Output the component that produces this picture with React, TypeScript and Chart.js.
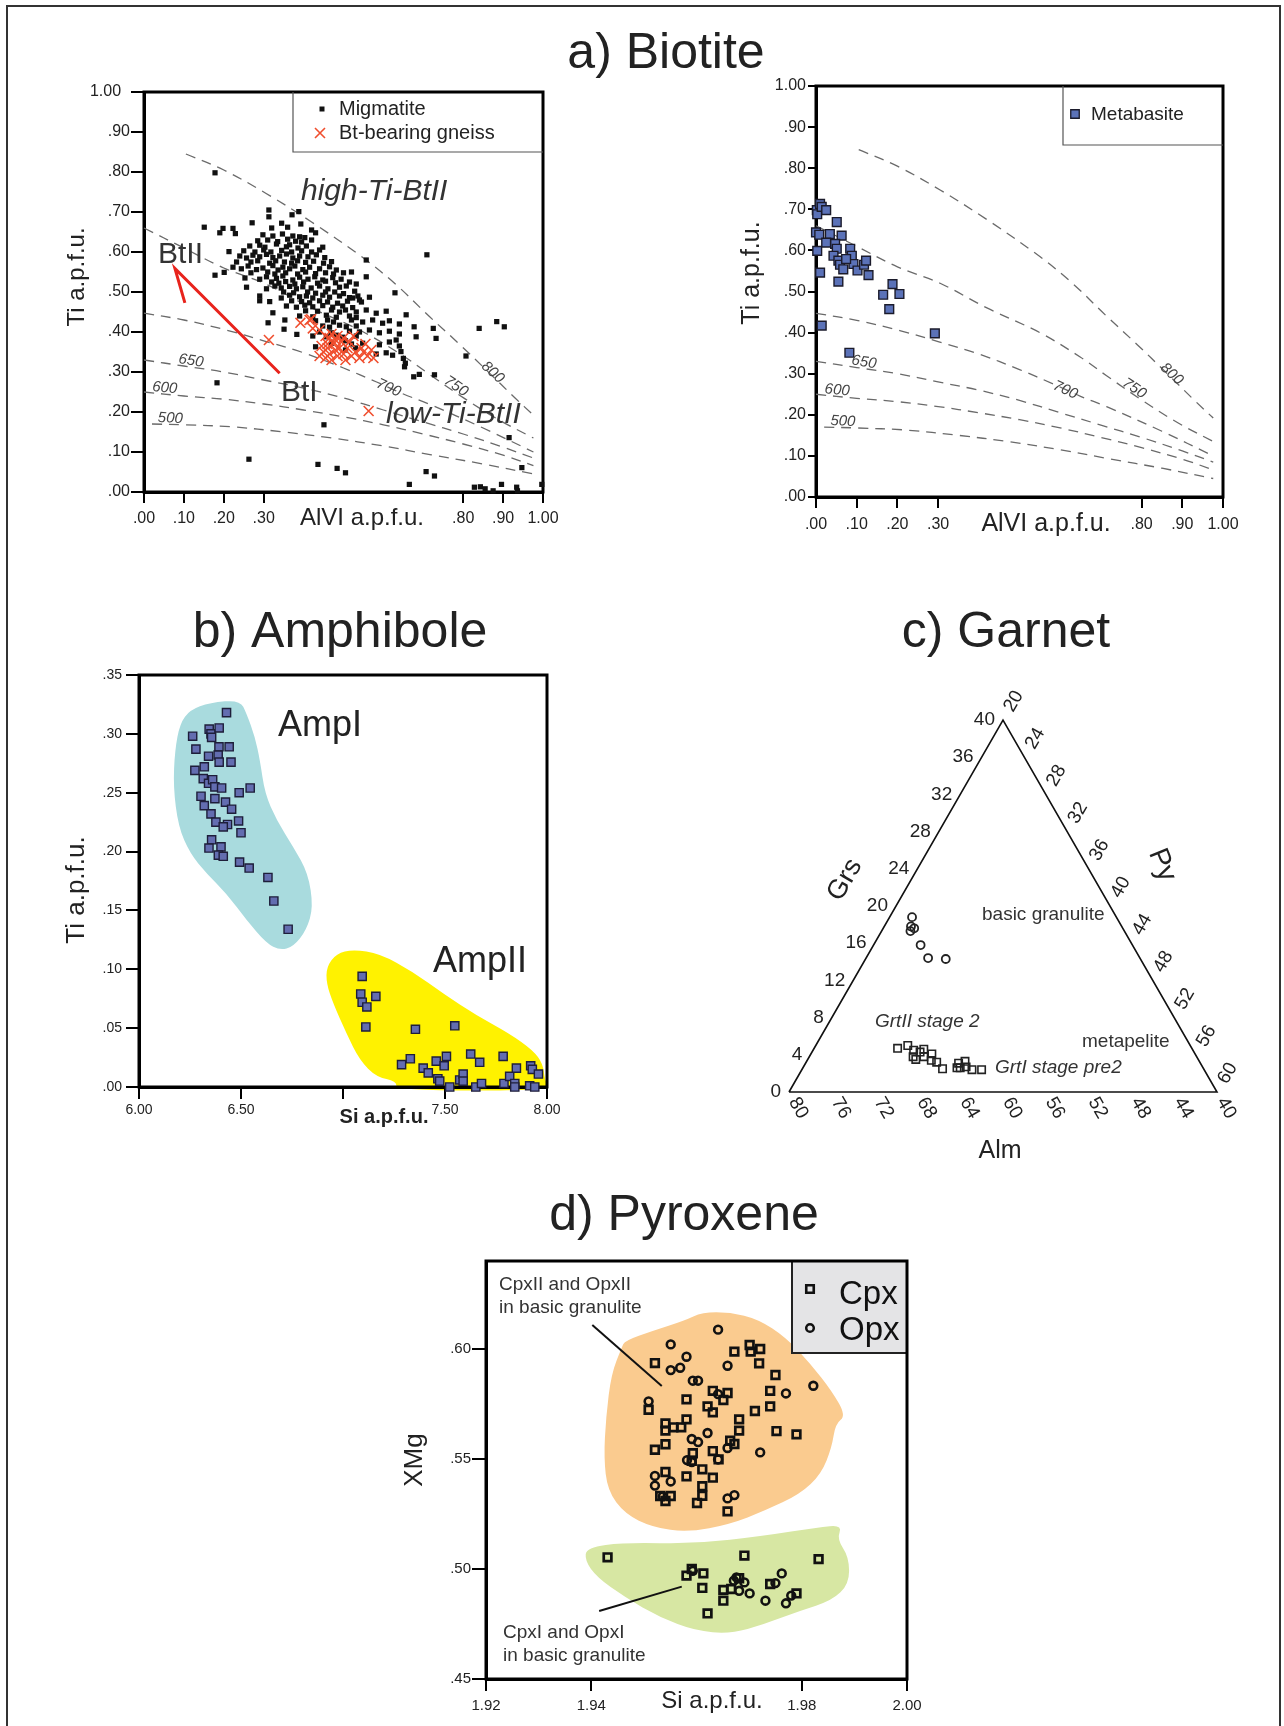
import React, { useEffect, useRef } from 'react';
import { Chart, registerables } from 'chart.js';

Chart.register(...registerables);

const PAGE_W = 1284;
const PAGE_H = 1726;
const FF = '"Liberation Sans", Arial, Helvetica, sans-serif';

type P = [number, number];

/* ================= a) Biotite ================= */
const bioXTicks = [0, 0.1, 0.2, 0.3, 0.8, 0.9, 1.0];
const bioYTicks = [0, 0.1, 0.2, 0.3, 0.4, 0.5, 0.6, 0.7, 0.8, 0.9, 1.0];

const migmatite: P[] = [
  [.178,.798],[.151,.662],[.198,.659],[.19,.648],[.223,.659],[.229,.646],[.271,.673],[.213,.601],[.178,.542],[.201,.549],
  [.183,.273],[.263,.082],[.451,.168],[.436,.069],[.484,.059],[.505,.048],[.313,.705],[.313,.688],[.371,.693],[.388,.701],
  [.29,.478],[.315,.476],[.323,.448],[.311,.423],[.353,.43],[.351,.407],[.383,.394],[.43,.363],
  [.709,.593],[.557,.58],[.557,.538],[.629,.498],[.657,.443],[.677,.413],[.725,.409],[.682,.388],[.732,.384],[.84,.409],
  [.884,.426],[.903,.413],[.807,.34],[.655,.322],[.676,.288],[.69,.294],[.728,.293],[.915,.136],[.665,.019],[.707,.051],
  [.728,.04],[.828,.012],[.843,.013],[.855,.008],[.875,.003],[.896,.019],[.934,.012],[.936,.003],[.947,.061],[.997,.019],
  [.644,.351],[.65,.334],[.653,.313],[.632,.38],
  [.298,.643],[.323,.64],[.347,.645],[.373,.64],[.39,.638],[.403,.636],
  [.32,.66],[.345,.672],[.36,.662],[.393,.67],[.42,.655],[.43,.648],
  [.285,.628],[.31,.63],[.335,.626],[.36,.632],[.38,.627],[.395,.625],[.42,.63],
  [.265,.615],[.29,.617],[.303,.612],[.332,.62],[.357,.613],[.365,.618],[.386,.61],[.407,.615],[.448,.612],
  [.25,.603],[.278,.6],[.3,.605],[.318,.6],[.345,.604],[.37,.6],[.395,.603],[.42,.6],[.44,.605],
  [.24,.59],[.257,.585],[.273,.592],[.29,.588],[.307,.594],[.323,.586],[.34,.59],[.357,.595],[.373,.585],[.39,.59],[.411,.588],[.432,.593],[.453,.586],
  [.232,.575],[.268,.575],[.285,.578],[.315,.572],[.33,.578],[.352,.575],[.37,.572],[.385,.578],[.405,.574],[.425,.577],[.45,.572],[.47,.576],
  [.223,.562],[.244,.558],[.261,.565],[.282,.556],[.298,.56],[.323,.566],[.336,.555],[.348,.562],[.365,.558],[.378,.565],[.398,.556],[.415,.562],[.44,.558],[.465,.563],[.482,.555],
  [.268,.548],[.31,.55],[.328,.545],[.355,.548],[.385,.545],[.405,.55],[.43,.546],[.455,.548],[.475,.545],[.5,.548],[.52,.55],
  [.253,.535],[.29,.532],[.307,.538],[.332,.534],[.348,.54],[.373,.53],[.39,.537],[.411,.532],[.428,.538],[.448,.53],[.473,.536],[.494,.532],
  [.32,.525],[.338,.522],[.355,.526],[.378,.52],[.4,.525],[.435,.522],[.455,.527],[.48,.523],[.515,.525],[.532,.52],
  [.257,.512],[.307,.508],[.328,.515],[.344,.51],[.365,.514],[.382,.508],[.398,.513],[.419,.51],[.44,.515],[.461,.508],[.49,.512],[.507,.515],
  [.35,.5],[.375,.498],[.41,.5],[.43,.497],[.455,.5],[.478,.5],[.5,.496],[.528,.502],
  [.29,.49],[.344,.485],[.365,.492],[.39,.488],[.407,.49],[.423,.485],[.448,.492],[.465,.487],[.49,.49],[.515,.486],[.536,.49],[.523,.485],[.54,.48],[.565,.487],
  [.37,.478],[.395,.476],[.415,.473],[.44,.478],[.46,.475],[.485,.472],[.51,.477],[.545,.475],
  [.357,.465],[.382,.462],[.403,.467],[.423,.463],[.448,.466],[.473,.462],[.498,.465],[.523,.461],
  [.405,.453],[.435,.452],[.47,.455],[.49,.45],[.505,.455],[.532,.45],[.557,.455],[.582,.447],[.607,.452],
  [.39,.44],[.423,.438],[.457,.442],[.482,.437],[.515,.44],[.532,.436],
  [.43,.428],[.46,.43],[.475,.425],[.52,.43],[.548,.425],[.573,.43],[.598,.422],[.615,.428],[.64,.42],
  [.448,.415],[.465,.412],[.49,.417],[.507,.413],[.532,.415],
  [.44,.4],[.47,.398],[.515,.402],[.54,.4],[.565,.405],[.59,.398],[.615,.402],[.64,.395],
  [.423,.39],[.457,.388],[.482,.392],[.498,.387],[.532,.39],
  [.47,.372],[.505,.378],[.52,.37],[.548,.372],[.59,.368],[.615,.375],[.64,.365],
  [.505,.355],[.53,.36],[.582,.345],[.607,.348],[.623,.342]
];

const btGneiss: P[] = [
  [.313,.38],[.392,.423],[.419,.432],[.423,.409],[.415,.43],[.44,.405],[.455,.39],[.46,.37],[.465,.385],[.47,.395],
  [.475,.37],[.48,.38],[.485,.39],[.49,.36],[.495,.375],[.45,.35],[.455,.335],[.465,.345],[.47,.33],[.48,.355],
  [.5,.345],[.505,.33],[.51,.36],[.52,.34],[.53,.35],[.54,.335],[.545,.36],[.555,.37],[.56,.34],[.57,.355],
  [.575,.335],[.445,.365],[.44,.34],[.46,.36],[.485,.34],[.5,.385],[.515,.375],[.525,.39],[.55,.35],[.563,.2025]
];

const metabasite: P[] = [
  [.002,.698],[.003,.688],[.01,.713],[.014,.706],[.025,.698],[0,.644],[.008,.638],[.003,.599],[.01,.546],[.014,.417],
  [.034,.64],[.025,.619],[.051,.669],[.063,.636],[.047,.616],[.051,.604],[.043,.587],[.055,.575],[.059,.565],[.055,.524],
  [.067,.554],[.084,.604],[.088,.587],[.092,.567],[.074,.579],[.102,.551],[.118,.565],[.123,.575],[.129,.54],[.165,.492],
  [.188,.518],[.205,.494],[.18,.457],[.292,.398],[.082,.351]
];

const iso800: P[] = [[.105,.845],[.2,.805],[.305,.747],[.42,.675],[.55,.585],[.63,.52],[.714,.44],[.79,.37],[.862,.301],[.93,.235],[.976,.192]];
const iso750: P[] = [[0,.66],[.1,.61],[.2,.56],[.305,.52],[.42,.46],[.55,.4],[.65,.34],[.714,.295],[.8,.236],[.89,.18],[.976,.135]];
const iso700: P[] = [[0,.447],[.1,.43],[.206,.405],[.3,.378],[.4,.348],[.5,.31],[.583,.275],[.65,.245],[.714,.22],[.85,.16],[.976,.1]];
const iso650: P[] = [[0,.33],[.1,.315],[.2,.3],[.3,.28],[.4,.26],[.5,.235],[.6,.205],[.7,.175],[.8,.145],[.9,.112],[.976,.085]];
const iso600: P[] = [[0,.25],[.1,.24],[.2,.232],[.3,.22],[.4,.205],[.5,.188],[.6,.168],[.7,.145],[.8,.12],[.9,.092],[.976,.066]];
const iso500: P[] = [[.02,.17],[.1,.168],[.22,.163],[.35,.15],[.47,.135],[.6,.115],[.72,.093],[.85,.07],[.976,.045]];
const isoNames = ['500', '600', '650', '700', '750', '800'];
const isoLabelAt: P[] = [[.066,.184],[.052,.26],[.118,.328],[.613,.26],[.782,.264],[.874,.299]];
const isoLabelRot = [3, 5, 9, 24, 34, 42];
const btArrow: P[] = [[.1025,.473],[.0775,.559],[.34,.297]];

/* ================= b) Amphibole ================= */
const amphXTicks = [6, 6.5, 7, 7.5, 8];
const amphYTicks = [0, 0.05, 0.1, 0.15, 0.2, 0.25, 0.3, 0.35];
const ampI: P[] = [
  [6.263,.298],[6.279,.287],[6.344,.304],[6.353,.3],[6.356,.297],[6.393,.305],[6.429,.318],[6.392,.289],[6.442,.289],[6.341,.281],
  [6.388,.282],[6.393,.276],[6.451,.276],[6.274,.269],[6.32,.272],[6.315,.262],[6.341,.258],[6.361,.261],[6.372,.255],[6.405,.254],
  [6.304,.247],[6.372,.245],[6.32,.239],[6.424,.242],[6.491,.25],[6.545,.254],[6.454,.236],[6.353,.232],[6.377,.225],[6.434,.223],
  [6.413,.221],[6.488,.226],[6.5,.216],[6.356,.21],[6.343,.203],[6.402,.204],[6.389,.197],[6.413,.196],[6.493,.191],[6.54,.186],
  [6.632,.178],[6.661,.158],[6.731,.134]
];
const ampII: P[] = [
  [7.094,.094],[7.087,.079],[7.094,.072],[7.117,.068],[7.161,.077],[7.112,.051],[7.355,.049],[7.548,.052],[7.287,.019],[7.33,.024],
  [7.393,.016],[7.418,.012],[7.457,.022],[7.465,.007],[7.474,.005],[7.496,.018],[7.507,.026],[7.523,0],[7.572,.006],[7.589,.011],
  [7.589,.005],[7.626,.028],[7.67,.021],[7.651,0],[7.679,.003],[7.785,.026],[7.789,.003],[7.817,.009],[7.842,.003],[7.85,.016],
  [7.842,0],[7.92,.018],[7.928,.015],[7.915,.001],[7.94,0],[7.958,.011]
];
const ampIZone: P[] = [
  [6.25,.3203],[6.348,.3265],[6.495,.3287],[6.527,.3174],[6.568,.2976],[6.593,.2777],[6.617,.2494],[6.674,.2267],[6.756,.2041],
  [6.829,.1814],[6.854,.153],[6.821,.1332],[6.756,.119],[6.691,.1162],[6.625,.1219],[6.527,.1417],[6.429,.1644],[6.331,.1814],
  [6.25,.1984],[6.193,.2211],[6.168,.2551],[6.176,.2862],[6.201,.3089]
];
const ampIIZone: P[] = [
  [6.919,.102],[6.968,.1134],[7.05,.1168],[7.18,.1134],[7.344,.0978],[7.491,.0794],[7.654,.0609],[7.817,.0453],[7.931,.0312],
  [7.98,.0198],[7.989,.0057],[8.021,-.003],[7.262,-.003],[7.262,.0051],[7.164,.0085],[7.082,.0227],[7.017,.0453],[6.952,.0709],[6.919,.0879]
];

/* ================= c) Garnet (ternary) ================= */
const grsTicks = [0, 4, 8, 12, 16, 20, 24, 28, 32, 36, 40];
const almTicks = [80, 76, 72, 68, 64, 60, 56, 52, 48, 44, 40];
const pyTicks = [20, 24, 28, 32, 36, 40, 44, 48, 52, 56, 60];
const triGrs = [0, 0, 40, 0];
const triPy = [20, 60, 20, 20];
const basicGrtGrs = [18.8, 17.8, 17.6, 17.3, 15.8, 14.4, 14.3];
const basicGrtPy = [22.1, 22.5, 22.9, 22.7, 24.4, 25.8, 27.5];
const peliteGrtGrs = [4.7, 5.0, 4.5, 3.8, 4.3, 4.6, 3.8, 4.1, 3.4, 3.2, 2.5, 3.1, 2.6, 3.3, 2.7, 2.4, 2.4, 3.5, 2.6];
const peliteGrtPy = [27.8, 28.6, 29.4, 29.7, 30.1, 30.3, 30.7, 31.3, 31.6, 32.2, 33.1, 34.3, 34.7, 34.8, 35.2, 35.9, 36.8, 30.1, 34.4];

/* ================= d) Pyroxene ================= */
const pyrXTicks = [1.92, 1.94, 1.98, 2.0];
const pyrYTicks = [0.45, 0.5, 0.55, 0.6];
const cpxII: P[] = [
  [1.9521,.5936],[1.9672,.5988],[1.9701,.6018],[1.9721,.6],[1.9719,.5935],[1.975,.5882],[1.974,.581],[1.974,.5739],[1.9711,.5718],
  [1.9752,.5627],[1.979,.5612],[1.9681,.568],[1.9681,.5629],[1.9664,.5583],[1.9672,.5568],[1.9659,.58],[1.9651,.5768],[1.9631,.581],
  [1.9631,.5712],[1.9621,.5739],[1.9581,.5771],[1.9581,.568],[1.9541,.5662],[1.9541,.5629],[1.9556,.5644],[1.9571,.5644],[1.9521,.5542],
  [1.9541,.5567],[1.9593,.5526],[1.9591,.5492],[1.9631,.5536],[1.9642,.5498],[1.9611,.5453],[1.9581,.5421],[1.9631,.5415],[1.9611,.5376],
  [1.9611,.5333],[1.9601,.53],[1.9541,.5441],[1.9531,.5332],[1.9551,.5332],[1.9541,.5309],[1.9509,.5724],[1.9659,.5262],[1.9703,.5988]
];
const opxII: P[] = [
  [1.9551,.6021],[1.9641,.6088],[1.9581,.5965],[1.9551,.5904],[1.9569,.5915],[1.9593,.5856],[1.9603,.5856],[1.9659,.5924],[1.9509,.5762],
  [1.977,.5798],[1.9822,.5833],[1.9721,.553],[1.9621,.5618],[1.9591,.5591],[1.9603,.5577],[1.9641,.5498],[1.9582,.5495],[1.9591,.5486],
  [1.9659,.555],[1.9521,.5423],[1.9521,.5379],[1.9551,.5398],[1.9536,.533],[1.9659,.5321],[1.9672,.5336],[1.9641,.5795]
];
const cpxI: P[] = [
  [1.9431,.5053],[1.9581,.497],[1.9591,.5],[1.9613,.498],[1.9611,.4914],[1.9621,.4798],[1.9651,.4905],[1.9651,.4856],[1.9691,.5061],
  [1.9681,.4958],[1.974,.4932],[1.979,.4889],[1.9832,.5045],[1.9666,.4909]
];
const opxI: P[] = [
  [1.9593,.4992],[1.9671,.4947],[1.9691,.4939],[1.9681,.4901],[1.9701,.4889],[1.9731,.4856],[1.975,.4936],[1.9762,.498],[1.977,.4844],
  [1.978,.4879],[1.9676,.4962]
];
const zoneII: P[] = [
  [1.9464,.6038],[1.9517,.6083],[1.9577,.6129],[1.9611,.6167],[1.9664,.6167],[1.9717,.6136],[1.977,.6053],[1.9817,.5932],[1.9857,.581],
  [1.9884,.5697],[1.9864,.5659],[1.9857,.5553],[1.9837,.5432],[1.9797,.5341],[1.973,.5265],[1.9664,.5204],[1.9584,.5167],[1.9517,.5189],
  [1.9464,.525],[1.9431,.5356],[1.9424,.5507],[1.9428,.5689],[1.9438,.5886],[1.9458,.6007]
];
const zoneI: P[] = [
  [1.9391,.5098],[1.9464,.5121],[1.9597,.5114],[1.973,.5151],[1.983,.5189],[1.9877,.52],[1.9867,.5136],[1.989,.5053],[1.989,.4932],
  [1.9857,.4856],[1.9797,.4811],[1.973,.475],[1.9664,.4705],[1.9597,.472],[1.9531,.478],[1.9464,.4871],[1.9411,.4962],[1.9388,.5038]
];
const leaderII: P[] = [[1.9402,.6109],[1.9534,.5832]];
const leaderI: P[] = [[1.9415,.4809],[1.9572,.492]];

/* ================= helpers ================= */
const xy = (a: P[]) => a.map(([x, y]) => ({ x, y }));
const R3 = Math.sqrt(3) / 2;
const tern = (grs: number, py: number) => ({ x: py - 20 + grs / 2, y: grs * R3 });
const strip0 = (v: number) => v.toFixed(2).replace(/^0/, '');

interface TOpt { size: number; style?: string; weight?: string; color?: string; align?: CanvasTextAlign; base?: CanvasTextBaseline; rot?: number }
function drawText(ctx: CanvasRenderingContext2D, t: string, x: number, y: number, o: TOpt) {
  ctx.save();
  ctx.translate(x, y);
  if (o.rot) ctx.rotate((o.rot * Math.PI) / 180);
  ctx.font = `${o.style || 'normal'} ${o.weight || 'normal'} ${o.size}px ${FF}`;
  ctx.fillStyle = o.color || '#222';
  ctx.textAlign = o.align || 'left';
  ctx.textBaseline = o.base || 'alphabetic';
  ctx.fillText(t, 0, 0);
  ctx.restore();
}

function drawFrame(chart: any) {
  const a = chart.chartArea;
  const ctx = chart.ctx;
  ctx.save();
  ctx.strokeStyle = '#000';
  ctx.lineWidth = 3;
  ctx.strokeRect(a.left, a.top, a.right - a.left, a.bottom - a.top);
  ctx.restore();
}

function drawBlob(chart: any, pts: P[], color: string) {
  const { ctx, scales } = chart;
  const px = pts.map(([a, b]) => [scales.x.getPixelForValue(a), scales.y.getPixelForValue(b)]);
  const n = px.length;
  const mid = (i: number, j: number) => [(px[i][0] + px[j][0]) / 2, (px[i][1] + px[j][1]) / 2];
  ctx.save();
  ctx.beginPath();
  const m0 = mid(n - 1, 0);
  ctx.moveTo(m0[0], m0[1]);
  for (let i = 0; i < n; i++) {
    const m = mid(i, (i + 1) % n);
    ctx.quadraticCurveTo(px[i][0], px[i][1], m[0], m[1]);
  }
  ctx.closePath();
  ctx.fillStyle = color;
  ctx.fill();
  ctx.restore();
}

function axis(min: number, max: number, ticks: number[], fmt: (v: number) => string, o: { horizontal: boolean; fit: number; size: number; tick: number; pad: number }) {
  return {
    type: 'linear',
    min,
    max,
    afterBuildTicks: (s: any) => { s.ticks = ticks.map((v) => ({ value: v })); },
    afterFit: (s: any) => { if (o.horizontal) s.height = o.fit; else s.width = o.fit; },
    grid: { display: true, drawOnChartArea: false, drawTicks: true, tickLength: o.tick, tickWidth: 2, tickColor: '#000', color: '#000', lineWidth: 2 },
    border: { display: true, width: 3, color: '#000' },
    ticks: { autoSkip: false, maxRotation: 0, minRotation: 0, padding: o.pad, color: '#222', font: { family: FF, size: o.size }, callback: (v: any) => fmt(Number(v)) },
  };
}

function layoutFor(L: number, T: number, R: number, B: number, yw: number, xh: number) {
  return { padding: { left: L - yw, top: T, right: PAGE_W - R, bottom: PAGE_H - B - xh } };
}

function baseOptions(layout: any, scales: any) {
  return {
    responsive: false,
    animation: false,
    events: [],
    layout,
    scales,
    plugins: { legend: { display: false }, tooltip: { enabled: false }, title: { display: false } },
  };
}

const isoDatasets = () =>
  [iso800, iso750, iso700, iso650, iso600, iso500].map((d) => ({
    data: xy(d), showLine: true, pointRadius: 0, borderColor: '#6a6a6a', borderWidth: 1.3, borderDash: [10, 7], tension: 0.35, clip: false,
  }));

const isoLabelDraw = (chart: any) => {
  const { ctx, scales } = chart;
  isoNames.forEach((n, i) =>
    drawText(ctx, n, scales.x.getPixelForValue(isoLabelAt[i][0]), scales.y.getPixelForValue(isoLabelAt[i][1]), {
      size: 15, style: 'italic', color: '#444', align: 'center', base: 'middle', rot: isoLabelRot[i],
    })
  );
};

function square(ctx: CanvasRenderingContext2D, cx: number, cy: number, s: number, fill: string | null, stroke: string | null, lw: number) {
  ctx.save();
  ctx.beginPath();
  ctx.rect(cx - s / 2, cy - s / 2, s, s);
  if (fill) { ctx.fillStyle = fill; ctx.fill(); }
  if (stroke) { ctx.strokeStyle = stroke; ctx.lineWidth = lw; ctx.stroke(); }
  ctx.restore();
}

/* ================= charts ================= */
function makeBioLeft(cv: HTMLCanvasElement) {
  const plugin = {
    id: 'bioLeftDeco',
    beforeDatasetsDraw: (c: any) => drawFrame(c),
    afterDatasetsDraw: (c: any) => {
      const ctx = c.ctx as CanvasRenderingContext2D;
      isoLabelDraw(c);
      drawText(ctx, 'a) Biotite', 666, 68, { size: 50, align: 'center' });
      drawText(ctx, 'high-Ti-BtII', 301, 200, { size: 30, style: 'italic', color: '#333' });
      drawText(ctx, 'BtII', 158, 263, { size: 30, color: '#333' });
      drawText(ctx, 'BtI', 281, 401, { size: 30, color: '#333' });
      drawText(ctx, 'low-Ti-BtII', 386, 423, { size: 30, style: 'italic', color: '#333' });
      drawText(ctx, 'Ti a.p.f.u.', 77, 277, { size: 24, align: 'center', base: 'middle', rot: -90 });
      drawText(ctx, 'AlVI a.p.f.u.', 362, 525, { size: 24, align: 'center' });
      ctx.save();
      ctx.strokeStyle = '#555';
      ctx.lineWidth = 1.2;
      ctx.beginPath();
      ctx.moveTo(293, 92); ctx.lineTo(293, 152); ctx.lineTo(543, 152);
      ctx.stroke();
      ctx.restore();
      square(ctx, 322, 109, 5, '#111', null, 0);
      ctx.save();
      ctx.strokeStyle = '#f04e2e';
      ctx.lineWidth = 1.6;
      ctx.beginPath();
      ctx.moveTo(315, 128); ctx.lineTo(325, 138); ctx.moveTo(325, 128); ctx.lineTo(315, 138);
      ctx.stroke();
      ctx.restore();
      drawText(ctx, 'Migmatite', 339, 115, { size: 20 });
      drawText(ctx, 'Bt-bearing gneiss', 339, 139, { size: 20 });
    },
  };
  return new Chart(cv, {
    type: 'scatter',
    data: {
      datasets: [
        { data: xy(btArrow), showLine: true, pointRadius: 0, borderColor: '#e8231c', borderWidth: 3, tension: 0, clip: false },
        { data: xy(btGneiss), pointStyle: 'crossRot', pointRadius: 7, pointBorderColor: '#f04e2e', pointBorderWidth: 1.6, clip: false },
        { data: xy(migmatite), pointStyle: 'rect', pointRadius: 3.7, pointBackgroundColor: '#111', pointBorderWidth: 0, pointBorderColor: '#111', clip: false },
        ...isoDatasets(),
      ],
    } as any,
    options: baseOptions(layoutFor(144, 92, 543, 492, 60, 40), {
      x: axis(0, 1, bioXTicks, (v) => (v >= 0.999 ? '1.00' : strip0(v)), { horizontal: true, fit: 40, size: 16, tick: 11, pad: 6 }),
      y: axis(0, 1, bioYTicks, (v) => (v >= 0.999 ? '1.00\u2007' : strip0(v)), { horizontal: false, fit: 60, size: 16, tick: 13, pad: 1 }),
    }) as any,
    plugins: [plugin],
  });
}

function makeBioRight(cv: HTMLCanvasElement) {
  const plugin = {
    id: 'bioRightDeco',
    beforeDatasetsDraw: (c: any) => drawFrame(c),
    afterDatasetsDraw: (c: any) => {
      const ctx = c.ctx as CanvasRenderingContext2D;
      isoLabelDraw(c);
      drawText(ctx, 'Ti a.p.f.u.', 752, 273, { size: 25, align: 'center', base: 'middle', rot: -90 });
      drawText(ctx, 'AlVI a.p.f.u.', 1046, 531, { size: 25, align: 'center' });
      ctx.save();
      ctx.strokeStyle = '#555';
      ctx.lineWidth = 1.2;
      ctx.beginPath();
      ctx.moveTo(1063, 86); ctx.lineTo(1063, 145); ctx.lineTo(1223, 145);
      ctx.stroke();
      ctx.restore();
      square(ctx, 1075, 114, 8.5, '#5b72b8', '#1b1b2b', 1.3);
      drawText(ctx, 'Metabasite', 1091, 120, { size: 19 });
    },
  };
  return new Chart(cv, {
    type: 'scatter',
    data: {
      datasets: [
        { data: xy(metabasite), pointStyle: 'rect', pointRadius: 6.2, pointBackgroundColor: '#5b72b8', pointBorderColor: '#1b1b2b', pointBorderWidth: 1.4, clip: false },
        ...isoDatasets(),
      ],
    } as any,
    options: baseOptions(layoutFor(816, 86, 1223, 497, 60, 40), {
      x: axis(0, 1, bioXTicks, (v) => (v >= 0.999 ? '1.00' : strip0(v)), { horizontal: true, fit: 40, size: 16, tick: 11, pad: 7 }),
      y: axis(0, 1, bioYTicks, (v) => (v >= 0.999 ? '1.00' : strip0(v)), { horizontal: false, fit: 60, size: 16, tick: 8, pad: 2 }),
    }) as any,
    plugins: [plugin],
  });
}

function makeAmph(cv: HTMLCanvasElement) {
  const plugin = {
    id: 'amphDeco',
    beforeDraw: (c: any) => {
      drawBlob(c, ampIZone, '#a9dbde');
      drawBlob(c, ampIIZone, '#fff200');
    },
    beforeDatasetsDraw: (c: any) => drawFrame(c),
    afterDatasetsDraw: (c: any) => {
      const ctx = c.ctx as CanvasRenderingContext2D;
      drawText(ctx, 'b) Amphibole', 340, 647, { size: 50, align: 'center' });
      drawText(ctx, 'AmpI', 278, 736, { size: 36, color: '#222' });
      drawText(ctx, 'AmpII', 433, 972, { size: 36, color: '#222' });
      drawText(ctx, 'Ti a.p.f.u.', 77, 890, { size: 26, align: 'center', base: 'middle', rot: -90 });
      drawText(ctx, 'Si a.p.f.u.', 384, 1123, { size: 20, weight: 'bold', align: 'center' });
    },
  };
  const pt = { pointStyle: 'rect', pointRadius: 5.8, pointBackgroundColor: '#636db0', pointBorderColor: '#1e1e3a', pointBorderWidth: 1.4, clip: false };
  return new Chart(cv, {
    type: 'scatter',
    data: { datasets: [{ data: xy(ampI), ...pt }, { data: xy(ampII), ...pt }] } as any,
    options: baseOptions(layoutFor(139, 675, 547, 1087, 60, 40), {
      x: axis(6, 8, amphXTicks, (v) => (Math.abs(v - 7) < 1e-9 ? '' : v.toFixed(2)), { horizontal: true, fit: 40, size: 14, tick: 12, pad: 3 }),
      y: axis(0, 0.35, amphYTicks, (v) => strip0(v), { horizontal: false, fit: 60, size: 14, tick: 13, pad: 4 }),
    }) as any,
    plugins: [plugin],
  });
}

function makeGarnet(cv: HTMLCanvasElement) {
  const plugin = {
    id: 'garnetDeco',
    afterDatasetsDraw: (c: any) => {
      const ctx = c.ctx as CanvasRenderingContext2D;
      const sx = c.scales.x, sy = c.scales.y;
      const pix = (g: number, p: number) => { const q = tern(g, p); return [sx.getPixelForValue(q.x), sy.getPixelForValue(q.y)]; };
      grsTicks.forEach((g) => { const [x, y] = pix(g, 20); drawText(ctx, String(g), x - 8, y, { size: 19, align: 'right', base: 'middle' }); });
      almTicks.forEach((a) => {
        const [x, y] = pix(0, 100 - a);
        ctx.save(); ctx.translate(x, y); ctx.rotate(Math.PI / 3);
        drawText(ctx, String(a), 8, 0, { size: 19, align: 'left', base: 'middle' });
        ctx.restore();
      });
      pyTicks.forEach((p) => {
        const [x, y] = pix(60 - p, p);
        ctx.save(); ctx.translate(x, y); ctx.rotate(-Math.PI / 3);
        drawText(ctx, String(p), 11, 0, { size: 19, align: 'left', base: 'middle' });
        ctx.restore();
      });
      drawText(ctx, 'c) Garnet', 1006, 647, { size: 50, align: 'center' });
      drawText(ctx, 'Grs', 845, 880, { size: 27, align: 'center', base: 'middle', rot: -60 });
      drawText(ctx, 'Py', 1162, 865, { size: 28, align: 'center', base: 'middle', rot: 68 });
      drawText(ctx, 'Alm', 1000, 1158, { size: 25, align: 'center' });
      drawText(ctx, 'basic granulite', 982, 920, { size: 19, color: '#333' });
      drawText(ctx, 'metapelite', 1082, 1047, { size: 19, color: '#333' });
      drawText(ctx, 'GrtII stage 2', 875, 1027, { size: 19, style: 'italic', color: '#333' });
      drawText(ctx, 'GrtI stage pre2', 995, 1073, { size: 19, style: 'italic', color: '#333' });
    },
  };
  const tri = triGrs.map((g, i) => tern(g, triPy[i]));
  const basic = basicGrtGrs.map((g, i) => tern(g, basicGrtPy[i]));
  const pelite = peliteGrtGrs.map((g, i) => tern(g, peliteGrtPy[i]));
  return new Chart(cv, {
    type: 'scatter',
    data: {
      datasets: [
        { data: basic, pointStyle: 'circle', pointRadius: 4, pointBackgroundColor: 'rgba(255,255,255,0)', pointBorderColor: '#222', pointBorderWidth: 1.8, clip: false },
        { data: pelite, pointStyle: 'rect', pointRadius: 5.2, pointBackgroundColor: 'rgba(255,255,255,0)', pointBorderColor: '#222', pointBorderWidth: 1.6, clip: false },
        { data: tri, showLine: true, pointRadius: 0, borderColor: '#111', borderWidth: 1.6, tension: 0, clip: false },
      ],
    } as any,
    options: baseOptions(layoutFor(789, 720, 1217, 1092, 0, 0), {
      x: { type: 'linear', min: 0, max: 40, display: false },
      y: { type: 'linear', min: 0, max: 40 * R3, display: false },
    }) as any,
    plugins: [plugin],
  });
}

function makePyro(cv: HTMLCanvasElement) {
  const plugin = {
    id: 'pyroDeco',
    beforeDraw: (c: any) => {
      drawBlob(c, zoneII, '#facb8f');
      drawBlob(c, zoneI, '#d7e7a3');
    },
    beforeDatasetsDraw: (c: any) => {
      const ctx = c.ctx as CanvasRenderingContext2D;
      ctx.save();
      ctx.fillStyle = '#e4e4e6';
      ctx.fillRect(792, 1261, 115, 92);
      ctx.strokeStyle = '#222';
      ctx.lineWidth = 2;
      ctx.strokeRect(792, 1261, 115, 92);
      ctx.restore();
      drawFrame(c);
      square(ctx, 810, 1289, 7.5, null, '#111', 2.6);
      ctx.save();
      ctx.beginPath();
      ctx.arc(810, 1328, 3.8, 0, Math.PI * 2);
      ctx.strokeStyle = '#111';
      ctx.lineWidth = 2.5;
      ctx.stroke();
      ctx.restore();
      drawText(ctx, 'Cpx', 839, 1304, { size: 33, color: '#111' });
      drawText(ctx, 'Opx', 839, 1340, { size: 33, color: '#111' });
    },
    afterDatasetsDraw: (c: any) => {
      const ctx = c.ctx as CanvasRenderingContext2D;
      drawText(ctx, 'd) Pyroxene', 684, 1230, { size: 50, align: 'center' });
      drawText(ctx, 'CpxII and OpxII', 499, 1290, { size: 19, color: '#333' });
      drawText(ctx, 'in basic granulite', 499, 1313, { size: 19, color: '#333' });
      drawText(ctx, 'CpxI and OpxI', 503, 1638, { size: 19, color: '#333' });
      drawText(ctx, 'in basic granulite', 503, 1661, { size: 19, color: '#333' });
      drawText(ctx, 'XMg', 415, 1460, { size: 26, align: 'center', base: 'middle', rot: -90 });
      drawText(ctx, 'Si a.p.f.u.', 712, 1708, { size: 24, align: 'center' });
    },
  };
  const sq = { pointStyle: 'rect', pointRadius: 5.4, pointBackgroundColor: 'rgba(255,255,255,0)', pointBorderColor: '#111', pointBorderWidth: 2.7, clip: false };
  const ci = { pointStyle: 'circle', pointRadius: 3.9, pointBackgroundColor: 'rgba(255,255,255,0)', pointBorderColor: '#111', pointBorderWidth: 2.6, clip: false };
  const ln = { showLine: true, pointRadius: 0, borderColor: '#111', borderWidth: 2, tension: 0, clip: false };
  return new Chart(cv, {
    type: 'scatter',
    data: {
      datasets: [
        { data: xy(leaderII), ...ln },
        { data: xy(leaderI), ...ln },
        { data: xy(cpxII), ...sq },
        { data: xy(opxII), ...ci },
        { data: xy(cpxI), ...sq },
        { data: xy(opxI), ...ci },
      ],
    } as any,
    options: baseOptions(layoutFor(486, 1261, 907, 1679, 60, 40), {
      x: axis(1.92, 2.0, pyrXTicks, (v) => v.toFixed(2), { horizontal: true, fit: 40, size: 15, tick: 12, pad: 6 }),
      y: axis(0.45, 0.64, pyrYTicks, (v) => strip0(v), { horizontal: false, fit: 60, size: 15, tick: 14, pad: 1 }),
    }) as any,
    plugins: [plugin],
  });
}

export default function App() {
  const r1 = useRef<HTMLCanvasElement>(null);
  const r2 = useRef<HTMLCanvasElement>(null);
  const r3 = useRef<HTMLCanvasElement>(null);
  const r4 = useRef<HTMLCanvasElement>(null);
  const r5 = useRef<HTMLCanvasElement>(null);

  useEffect(() => {
    const charts = [
      makeBioLeft(r1.current!),
      makeBioRight(r2.current!),
      makeAmph(r3.current!),
      makeGarnet(r4.current!),
      makePyro(r5.current!),
    ];
    return () => charts.forEach((c) => c.destroy());
  }, []);

  const cs: React.CSSProperties = { position: 'absolute', left: 0, top: 0, width: PAGE_W, height: PAGE_H };
  return (
    <div style={{ position: 'absolute', left: 0, top: 0, width: PAGE_W, height: PAGE_H, overflow: 'hidden', background: '#fff' }}>
      <div style={{ position: 'absolute', left: 6, top: 5, width: 1275, height: 1800, border: '2px solid #333', boxSizing: 'border-box' }} />
      <canvas ref={r1} width={PAGE_W} height={PAGE_H} style={cs} />
      <canvas ref={r2} width={PAGE_W} height={PAGE_H} style={cs} />
      <canvas ref={r3} width={PAGE_W} height={PAGE_H} style={cs} />
      <canvas ref={r4} width={PAGE_W} height={PAGE_H} style={cs} />
      <canvas ref={r5} width={PAGE_W} height={PAGE_H} style={cs} />
    </div>
  );
}
